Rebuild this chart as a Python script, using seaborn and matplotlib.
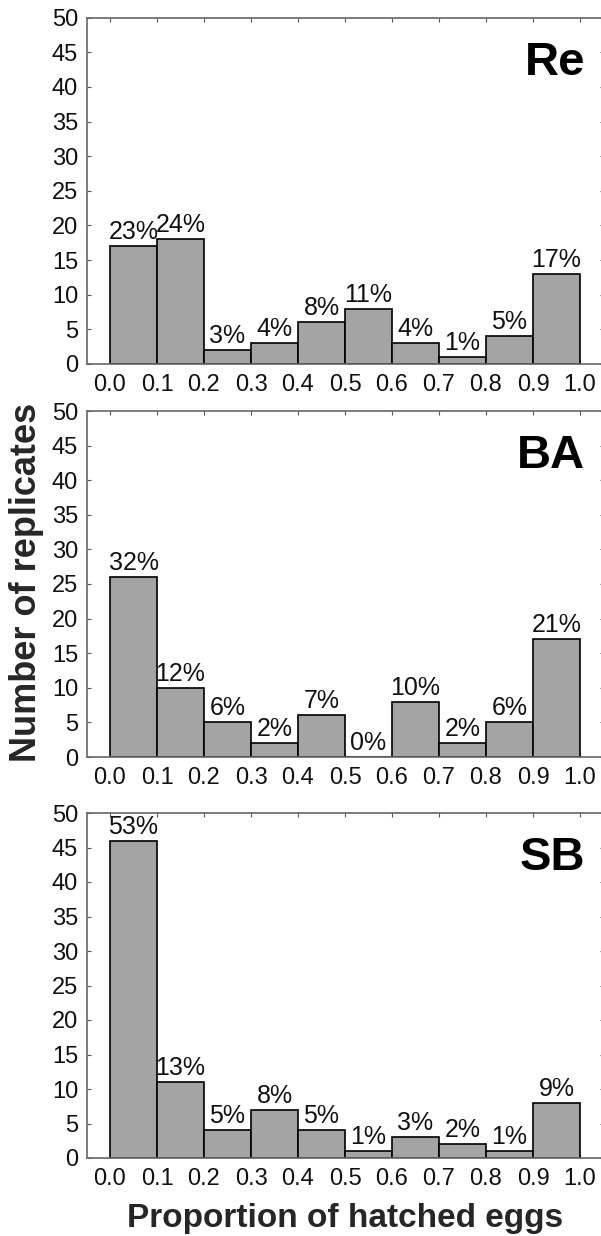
import numpy as np
import pandas as pd
import matplotlib
matplotlib.use("Agg")
import matplotlib.pyplot as plt
import seaborn as sns

# ---- data ----
bin_edges = [0.0, 0.1, 0.2, 0.3, 0.4, 0.5, 0.6, 0.7, 0.8, 0.9, 1.0]
bin_centers = [0.05, 0.15, 0.25, 0.35, 0.45, 0.55, 0.65, 0.75, 0.85, 0.95]
xtick_labels = ["0.0", "0.1", "0.2", "0.3", "0.4", "0.5", "0.6", "0.7", "0.8", "0.9", "1.0"]
ytick_values = [0, 5, 10, 15, 20, 25, 30, 35, 40, 45, 50]

panels = ["Re", "BA", "SB"]
re_counts = [17, 18, 2, 3, 6, 8, 3, 1, 4, 13]
ba_counts = [26, 10, 5, 2, 6, 0, 8, 2, 5, 17]
sb_counts = [46, 11, 4, 7, 4, 1, 3, 2, 1, 8]
re_pct = ["23%", "24%", "3%", "4%", "8%", "11%", "4%", "1%", "5%", "17%"]
ba_pct = ["32%", "12%", "6%", "2%", "7%", "0%", "10%", "2%", "6%", "21%"]
sb_pct = ["53%", "13%", "5%", "8%", "5%", "1%", "3%", "2%", "1%", "9%"]

counts_list = [re_counts, ba_counts, sb_counts]
pct_list = [re_pct, ba_pct, sb_pct]

sns.set_style("ticks")
plt.rcParams['font.family'] = ['Liberation Sans', 'DejaVu Sans']

W, H = 601, 1236
fig = plt.figure(figsize=(W / 100, H / 100), dpi=100)

# (top_px, bottom_px) of each panel
panel_px = [(17.7, 364), (411, 757), (813, 1158)]
left_px, right_px = 86.5, 603.5

for (top, bot), name, counts, pcts in zip(panel_px, panels, counts_list, pct_list):
    ax = fig.add_axes([left_px / W, 1 - bot / H, (right_px - left_px) / W, (bot - top) / H])
    df = pd.DataFrame({"x": bin_centers, "n": counts})
    sns.histplot(data=df, x="x", weights="n", bins=bin_edges, ax=ax,
                 color="#a4a4a4", edgecolor="black", linewidth=1.2, alpha=1)
    ax.set_xlim(-0.05, 1.05)
    ax.set_ylim(0, 50)
    ax.set_xticks([float(t) for t in xtick_labels])
    ax.set_xticklabels(xtick_labels)
    ax.set_yticks(ytick_values)
    ax.set_xlabel("")
    ax.set_ylabel("")
    ax.tick_params(direction="in", length=3, width=0.8, color="#555555",
                   labelsize=17, top=True, right=True, labelcolor="#111111")
    ax.tick_params(axis="x", pad=7)
    ax.tick_params(axis="y", pad=6)
    for s in ax.spines.values():
        s.set_color("#666666")
        s.set_linewidth(1.2)
    for xc, c, p in zip(bin_centers, counts, pcts):
        ax.annotate(p, (xc, c), xytext=(0, 1.5), textcoords="offset points",
                    ha="center", va="bottom", fontsize=18, color="#111111")
    ax.text(0.965, 0.87, name, transform=ax.transAxes, ha="right", va="center",
            fontsize=34, fontweight="bold", color="black")

fig.text(27 / W, 1 - 762 / H, "Number of replicates", rotation=90,
         ha="center", va="bottom", fontsize=26, fontweight="bold")
fig.text(345 / W, 1 - 1218 / H, "Proportion of hatched eggs",
         ha="center", va="center", fontsize=24, fontweight="bold")

fig.savefig("out.png", dpi=100)
